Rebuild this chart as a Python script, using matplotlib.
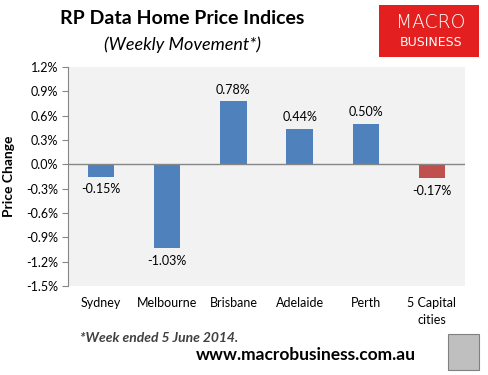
import matplotlib
matplotlib.use("Agg")
import matplotlib.pyplot as plt
from matplotlib.patches import Rectangle
from matplotlib.ticker import FuncFormatter

categories = ["Sydney", "Melbourne", "Brisbane", "Adelaide", "Perth", "5 Capital\ncities"]
values = [-0.15, -1.03, 0.78, 0.44, 0.50, -0.17]
labels = ["-0.15%", "-1.03%", "0.78%", "0.44%", "0.50%", "-0.17%"]
colors = ["#4F81BD"] * 5 + ["#C0504D"]
yticks = [1.2, 0.9, 0.6, 0.3, 0.0, -0.3, -0.6, -0.9, -1.2, -1.5]

plt.rcParams['font.family'] = ['Lato', 'DejaVu Sans']

W, H = 488, 375
fig = plt.figure(figsize=(W / 100, H / 100), dpi=100)
ax = fig.add_axes([68 / W, 1 - 286 / H, (465 - 68) / W, (286 - 67) / H])
ax.set_facecolor("#F2F2F2")

x = range(len(categories))
ax.bar(x, values, width=0.4, color=colors, zorder=2)
ax.axhline(0, color="#868686", lw=1, zorder=3)
ax.set_xlim(-0.5, len(categories) - 0.5)
ax.set_ylim(-1.5, 1.2)
ax.set_yticks(yticks)
ax.yaxis.set_major_formatter(FuncFormatter(lambda v, p: f"{v:.1f}%"))
ax.set_xticks(list(x))
ax.set_xticklabels(categories, fontsize=9, linespacing=1.5)
ax.tick_params(axis='x', length=0, pad=8)
ax.tick_params(axis='y', labelsize=9, length=4, color="#868686", pad=3)
for s in ["top", "right", "bottom"]:
    ax.spines[s].set_visible(False)
ax.spines["left"].set_color("#868686")

for xi, v, lab in zip(x, values, labels):
    if v >= 0:
        ax.annotate(lab, (xi, v), xytext=(0, 4), textcoords="offset points",
                    ha="center", va="bottom", fontsize=9)
    else:
        ax.annotate(lab, (xi, v), xytext=(0, -5), textcoords="offset points",
                    ha="center", va="top", fontsize=9)

ax.set_ylabel("Price Change", fontsize=10, fontweight="bold", labelpad=8)

fig.text(182 / W, 1 - 19 / H, "RP Data Home Price Indices", ha="center", va="center",
         fontsize=14, fontweight="bold")
fig.text(182 / W, 1 - 45 / H, "(Weekly Movement*)", ha="center", va="center",
         fontsize=13, style="italic")

# logo
fig.patches.append(Rectangle((379 / W, 1 - 57 / H), 100 / W, 52 / H, transform=fig.transFigure,
                             facecolor="#E3201F", edgecolor="none"))
fig.text(431 / W, 1 - 23 / H, "MACRO", ha="center", va="center", color="white", fontsize=13.5,
         family="DejaVu Sans", fontweight="light")
fig.text(431 / W, 1 - 42 / H, "BUSINESS", ha="center", va="center", color="white",
         fontsize=9, family="DejaVu Sans")

fig.text(80 / W, 1 - 338 / H, "*Week ended 5 June 2014.", ha="left", va="center",
         fontsize=10, fontweight="bold", style="italic", color="#404040")
fig.text(306 / W, 1 - 355 / H, "www.macrobusiness.com.au", ha="center", va="center",
         fontsize=12.5, fontweight="bold")

fig.patches.append(Rectangle((448 / W, 1 - 370 / H), 31 / W, 36 / H, transform=fig.transFigure,
                             facecolor="#BFBFBF", edgecolor="#808080", lw=0.8))

fig.savefig("out.png", dpi=100)
